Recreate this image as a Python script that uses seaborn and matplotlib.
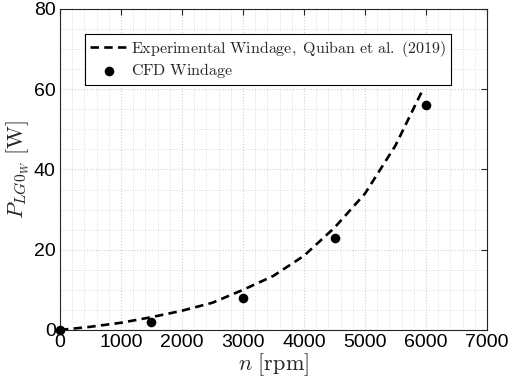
import numpy as np
import pandas as pd
import matplotlib
matplotlib.use("Agg")
import matplotlib.pyplot as plt
from matplotlib.ticker import MultipleLocator
import seaborn as sns

# experimental windage curve (Quiban et al. 2019)
exp_n = [0, 500, 1000, 1500, 2000, 2500, 3000, 3500, 4000, 4500, 5000, 5500, 5950]
exp_p = [0, 0.8, 1.8, 3.2, 4.8, 6.8, 10.0, 13.5, 18.5, 25.5, 34.0, 46.0, 60.0]

# CFD windage points
cfd_n = [0, 1500, 3000, 4500, 6000]
cfd_p = [0, 2, 8, 23, 56]

sns.set_style("white")
plt.rcParams['font.family'] = ['Liberation Sans', 'DejaVu Sans']
plt.rcParams['mathtext.fontset'] = 'cm'

exp_df = pd.DataFrame({"n": exp_n, "P": exp_p})
cfd_df = pd.DataFrame({"n": cfd_n, "P": cfd_p})

fig = plt.figure(figsize=(5.1, 3.89), dpi=100)
ax = fig.add_axes([0.1176, 0.1517, 0.8374, 0.8253])

sns.lineplot(data=exp_df, x="n", y="P", ax=ax, color="black", linewidth=1.9,
             label=r"$\mathrm{Experimental\ Windage,\ Quiban\ et\ al.\ (2019)}$")
ax.lines[-1].set_dashes([3.2, 2.0])
sns.scatterplot(data=cfd_df, x="n", y="P", ax=ax, color="black", s=48,
                edgecolor="black", linewidth=0, zorder=5, clip_on=False,
                label=r"$\mathrm{CFD\ Windage}$")

ax.set_xlim(0, 7000)
ax.set_ylim(0, 80)
ax.xaxis.set_major_locator(MultipleLocator(1000))
ax.xaxis.set_minor_locator(MultipleLocator(200))
ax.yaxis.set_major_locator(MultipleLocator(20))
ax.yaxis.set_minor_locator(MultipleLocator(5))

ax.grid(which="major", color="#cfcfcf", linestyle=":", linewidth=0.8)
ax.grid(which="minor", color="#dddddd", linestyle=":", linewidth=0.7)
ax.set_axisbelow(True)

for sp in ax.spines.values():
    sp.set_color("#262626")
    sp.set_linewidth(0.8)

ax.tick_params(which="major", direction="in", length=4, width=0.8,
               top=True, right=True, labelsize=14, colors="#262626",
               labelcolor="black", pad=3)
ax.tick_params(which="minor", length=0, top=True, right=True)

ax.set_xlabel(r"$n\ \mathrm{[rpm]}$", fontsize=16, labelpad=0)
ax.set_ylabel(r"$P_{LG0_W}\ \mathrm{[W]}$", fontsize=16, labelpad=2)

leg = ax.legend(loc="upper left", bbox_to_anchor=(0.058, 0.922), fontsize=11.5,
                frameon=True, fancybox=False, edgecolor="black",
                framealpha=1, borderpad=0.3, handlelength=2.4,
                handletextpad=0.2, labelspacing=0.15, borderaxespad=0)
leg.get_frame().set_linewidth(0.8)

fig.savefig("out.png", dpi=100)
